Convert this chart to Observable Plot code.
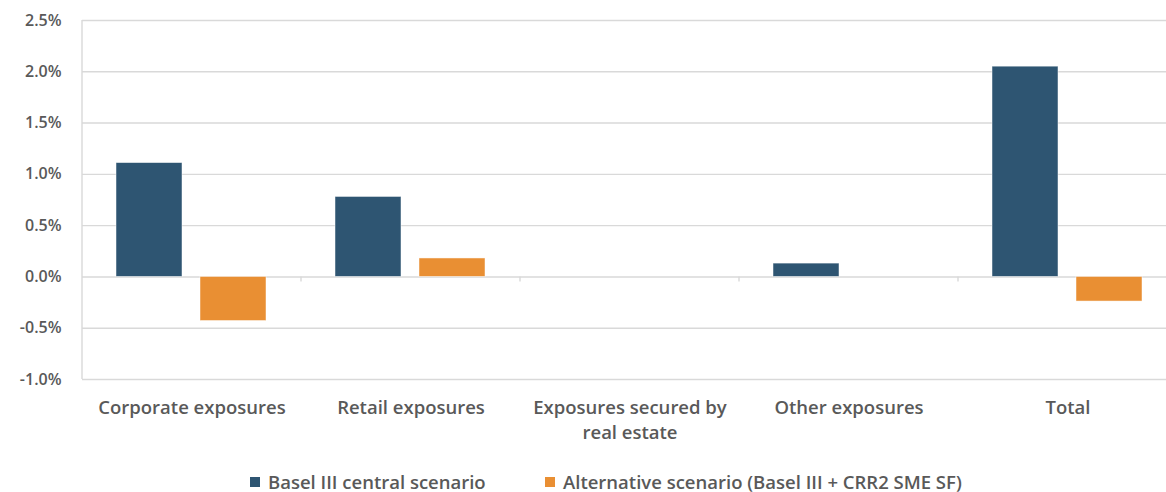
<!DOCTYPE html>
<html><head><meta charset="utf-8">
<script src="https://cdn.jsdelivr.net/npm/d3@7"></script>
<script src="https://cdn.jsdelivr.net/npm/@observablehq/plot@0.6"></script>
<style>
html,body{margin:0;padding:0;background:#fff;overflow:hidden;width:1166px;height:492px}
#chart svg{display:block;overflow:hidden}
#legend{position:relative;height:40px;font-family:"Open Sans",sans-serif;font-weight:600;font-size:18.5px;line-height:20px;color:#595959}
.item{position:absolute;top:20px;display:flex;align-items:center;white-space:nowrap}
.sw{width:10px;height:10px;margin-right:8px}
</style></head><body><div id="chart"></div><div id="legend"></div>
<script>
const categories = ["Corporate exposures","Retail exposures","Exposures secured by real estate","Other exposures","Total"];
const categoryLabels = ["Corporate exposures","Retail exposures","Exposures secured by\nreal estate","Other exposures","Total"];
const series = ["Basel III central scenario","Alternative scenario (Basel III + CRR2 SME SF)"];
const baselValues = [1.11, 0.78, 0, 0.13, 2.05];
const altValues = [-0.43, 0.18, 0, 0, -0.24];
const yTicks = [-1, -0.5, 0, 0.5, 1, 1.5, 2, 2.5];
const colors = ["#2E5572", "#E98F33"];

const data = [];
categories.forEach((c, i) => {
  data.push({category: c, series: series[0], value: baselValues[i]});
  data.push({category: c, series: series[1], value: altValues[i]});
});

const chart = Plot.plot({
  width: 1166,
  height: 452,
  marginLeft: 81,
  marginRight: -11,
  marginTop: 20,
  marginBottom: 73,
  style: {fontFamily: "'Open Sans', sans-serif", fontSize: "16px", fontWeight: 600, color: "#595959", background: "#fff"},
  fx: {domain: categories, padding: 0, label: null, axis: null},
  x: {domain: series, paddingInner: 0.21, paddingOuter: 0.394, axis: null},
  y: {domain: [-1, 2.5], ticks: yTicks, tickFormat: d => d.toFixed(1) + "%", tickSize: 0, tickPadding: 21, label: null},
  color: {domain: series, range: colors},
  marks: [
    Plot.ruleY(yTicks, {stroke: "#d9d9d9", strokeWidth: 1.4}),
    Plot.barY(data, {fx: "category", x: "series", y: "value", fill: "series", stroke: "#ffffff", strokeOpacity: 0.6, strokeWidth: 0.8}),
    Plot.axisFx({anchor: "bottom", tickSize: 0, tickPadding: 17, label: null, fontSize: 18.5, lineHeight: 1.35, tickFormat: d => categoryLabels[categories.indexOf(d)]})
  ]
});
document.getElementById("chart").appendChild(chart);

// axis line and category tick marks from the library's scales
const fx = chart.scale("fx"), y = chart.scale("y");
const svg = d3.select(chart);
const g = svg.append("g").attr("stroke", "#d9d9d9").attr("stroke-width", 1.4);
const x0 = fx.apply(categories[0]);
g.append("line").attr("x1", x0).attr("x2", x0).attr("y1", y.apply(2.5)).attr("y2", y.apply(-1));
categories.slice(1).forEach(c => {
  const xx = fx.apply(c);
  g.append("line").attr("x1", xx).attr("x2", xx).attr("y1", y.apply(0)).attr("y2", y.apply(0) + 5);
});

const legend = d3.select("#legend");
const lefts = [250, 545];
series.forEach((s, i) => {
  const it = legend.append("div").attr("class", "item").style("left", lefts[i] + "px");
  it.append("div").attr("class", "sw").style("background", colors[i]);
  it.append("span").text(s);
});
</script></body></html>
